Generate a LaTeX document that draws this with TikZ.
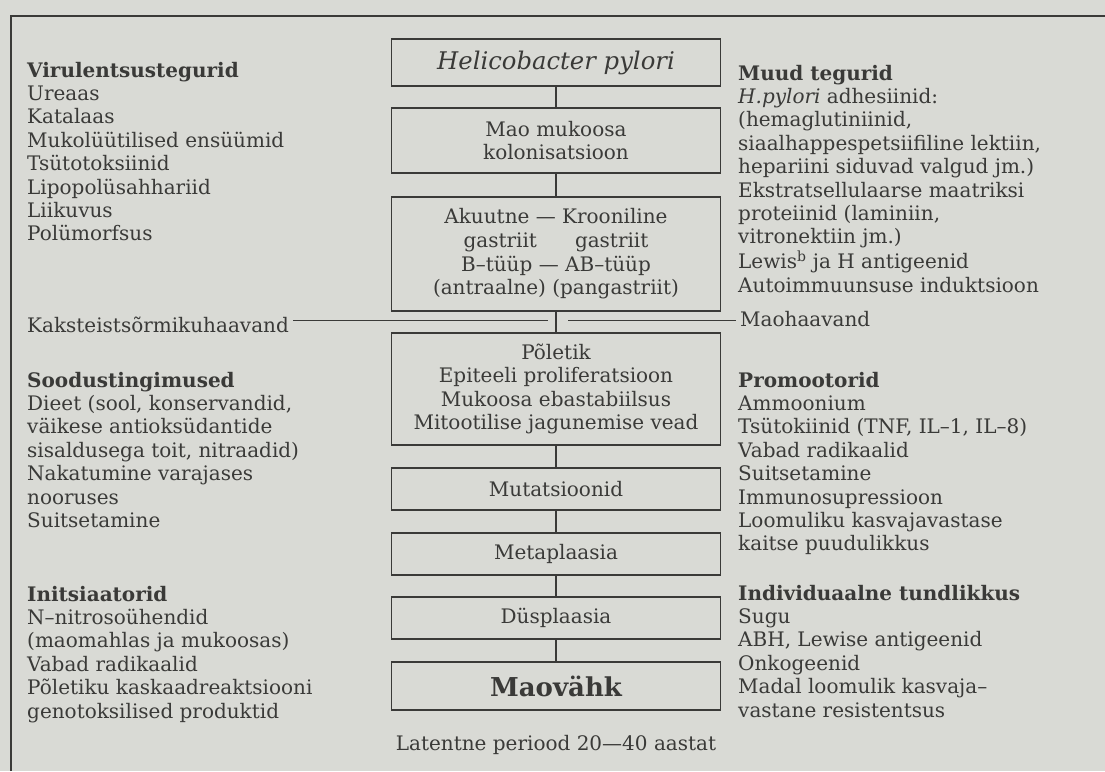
\documentclass[tikz,border=0pt]{standalone}
\usepackage{fontspec}
\setmainfont{DejaVu Serif}
\definecolor{ink}{HTML}{3A3A38}
\definecolor{paper}{HTML}{D9DAD5}
\newcommand{\stext}{\fontsize{20}{23.4}\selectfont}
\newcommand{\ctext}{\fontsize{20}{23.6}\selectfont}
\newcommand{\collines}[1]{\begin{tabular}[t]{@{}l@{}}#1\end{tabular}}
\tikzset{
  cbox/.style={draw=ink, line width=1.3pt, minimum width=329pt, inner sep=0pt, align=center, font=\ctext, text=ink},
  side/.style={anchor=base west, inner sep=0pt, font=\stext, text=ink},
  conn/.style={draw=ink, line width=1.3pt},
  frame/.style={draw=ink, line width=1.5pt},
}
\begin{document}
\begin{tikzpicture}[x=1pt,y=-1pt]
\fill[paper] (0,0) rectangle (1105,771);
\useasboundingbox (0,0) rectangle (1105,771);
% frame
\coordinate (ftl) at (11,16);
\coordinate (ftr) at (1105,16);
\coordinate (fbl) at (11,771);
\draw[frame] (fbl) -- (ftl) -- (ftr);
% central chain
\node[cbox, minimum height=47pt, font=\fontsize{24.3}{28}\selectfont\itshape] (hp) at (556,62.5) {Helicobacter pylori};
\node[cbox, minimum height=65pt] (mk) at (556,140.5) {Mao mukoosa\\kolonisatsioon};
\node[cbox, minimum height=114pt] (gs) at (556,254) {Akuutne — Krooniline\\gastriit\hspace{38pt}gastriit\\B–tüüp — AB–tüüp\\(antraalne) (pangastriit)};
\node[cbox, minimum height=112pt] (pl) at (556,389) {Põletik\\Epiteeli proliferatsioon\\Mukoosa ebastabiilsus\\Mitootilise jagunemise vead};
\node[cbox, minimum height=42pt] (mu) at (556,489) {Mutatsioonid};
\node[cbox, minimum height=42pt] (me) at (556,554) {Metaplaasia};
\node[cbox, minimum height=42pt] (du) at (556,618) {Düsplaasia};
\node[cbox, minimum height=48pt, font=\fontsize{26}{30}\selectfont\bfseries] (mv) at (556,686) {Maovähk};
\node[anchor=base, inner sep=0pt, font=\ctext, text=ink] (lat) at (556,750) {Latentne periood 20—40 aastat};
\draw[conn] (hp) -- (mk);
\draw[conn] (mk) -- (gs);
\draw[conn] (gs) -- (pl);
\draw[conn] (pl) -- (mu);
\draw[conn] (mu) -- (me);
\draw[conn] (me) -- (du);
\draw[conn] (du) -- (mv);
% left column
\node[side] (vir) at (27,77) {\collines{\textbf{Virulentsustegurid}\\Ureaas\\Katalaas\\Mukolüütilised ensüümid\\Tsütotoksiinid\\Lipopolüsahhariid\\Liikuvus\\Polümorfsus}};
\node[side] (kak) at (27,332) {Kaksteistsõrmikuhaavand};
\node[side] (soo) at (27,387) {\collines{\textbf{Soodustingimused}\\Dieet (sool, konservandid,\\väikese antioksüdantide\\sisaldusega toit, nitraadid)\\Nakatumine varajases\\nooruses\\Suitsetamine}};
\node[side] (ini) at (27,601) {\collines{\textbf{Initsiaatorid}\\N–nitrosoühendid\\(maomahlas ja mukoosas)\\Vabad radikaalid\\Põletiku kaskaadreaktsiooni\\genotoksilised produktid}};
% right column
\node[side] (muu) at (738,80) {\collines{\textbf{Muud tegurid}\\\textit{H.pylori} adhesiinid:\\(hemaglutiniinid,\\siaalhappespetsiifiline lektiin,\\hepariini siduvad valgud jm.)\\Ekstratsellulaarse maatriksi\\proteiinid (laminiin,\\vitronektiin jm.)\\Lewis\textsuperscript{b} ja H antigeenid\\Autoimmuunsuse induktsioon}};
\node[side] (mao) at (740,326) {Maohaavand};
\node[side] (pro) at (738,387) {\collines{\textbf{Promootorid}\\Ammoonium\\Tsütokiinid (TNF, IL–1, IL–8)\\Vabad radikaalid\\Suitsetamine\\Immunosupressioon\\Loomuliku kasvajavastase\\kaitse puudulikkus}};
\node[side] (ind) at (738,600) {\collines{\textbf{Individuaalne tundlikkus}\\Sugu\\ABH, Lewise antigeenid\\Onkogeenid\\Madal loomulik kasvaja–\\vastane resistentsus}};
% ulcer branches
\coordinate (hl) at (548,320);
\coordinate (hr) at (568,320);
\draw[conn, line width=1pt] ([xshift=4pt]kak.east |- hl) -- (hl);
\draw[conn, line width=1pt] (hr) -- ([xshift=-4pt]mao.west |- hr);
\end{tikzpicture}
\end{document}
